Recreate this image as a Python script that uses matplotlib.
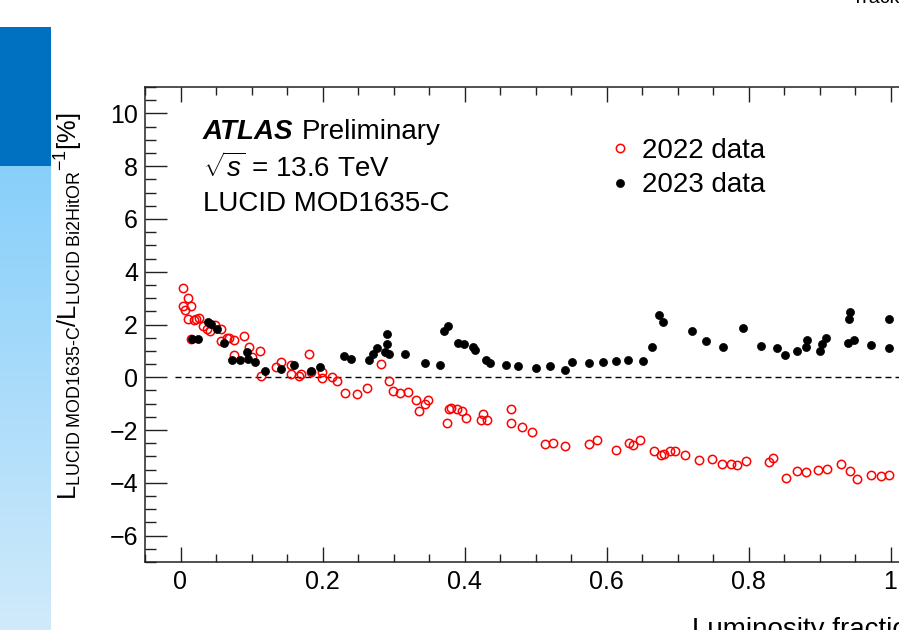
import numpy as np
import matplotlib
matplotlib.use("Agg")
import matplotlib.pyplot as plt
from matplotlib.patches import Rectangle

plt.rcParams['font.family'] = ['Liberation Sans', 'DejaVu Sans']
plt.rcParams['mathtext.fontset'] = 'custom'
plt.rcParams['mathtext.rm'] = 'Liberation Sans'
plt.rcParams['mathtext.it'] = 'Liberation Sans:italic'
plt.rcParams['mathtext.bf'] = 'Liberation Sans:bold'

# 2022 data (open red circles)
x2022 = [0.004, 0.011, 0.004, 0.006, 0.015, 0.011, 0.019, 0.022, 0.026, 0.032,
         0.037, 0.041, 0.048, 0.057, 0.015, 0.057, 0.066, 0.069, 0.075, 0.090,
         0.076, 0.096, 0.100, 0.112, 0.113, 0.135, 0.141, 0.155, 0.155, 0.167,
         0.170, 0.181, 0.184, 0.199, 0.199, 0.213, 0.220, 0.232, 0.249, 0.263,
         0.282, 0.293, 0.299, 0.309, 0.321, 0.332, 0.336, 0.344, 0.348, 0.375,
         0.378, 0.381, 0.389, 0.397, 0.402, 0.423, 0.426, 0.431, 0.466, 0.466,
         0.481, 0.495, 0.513, 0.524, 0.541, 0.576, 0.586, 0.614, 0.632, 0.637,
         0.647, 0.667, 0.677, 0.681, 0.690, 0.696, 0.711, 0.730, 0.749, 0.762,
         0.776, 0.784, 0.796, 0.829, 0.835, 0.853, 0.869, 0.881, 0.898, 0.910,
         0.930, 0.943, 0.953, 0.973, 0.987, 0.998]
y2022 = [3.40, 3.02, 2.69, 2.56, 2.69, 2.19, 2.16, 2.21, 2.26, 1.93,
         1.84, 1.74, 1.97, 1.84, 1.44, 1.38, 1.47, 1.50, 1.43, 1.55,
         0.83, 1.15, 0.77, 1.00, 0.05, 0.39, 0.58, 0.48, 0.14, 0.04,
         0.14, 0.87, 0.20, 0.20, -0.01, 0.01, -0.15, -0.58, -0.62, -0.39,
         0.49, -0.14, -0.52, -0.59, -0.56, -0.87, -1.29, -1.03, -0.85, -1.73,
         -1.22, -1.17, -1.21, -1.28, -1.53, -1.60, -1.40, -1.63, -1.22, -1.75,
         -1.88, -2.07, -2.54, -2.49, -2.61, -2.54, -2.39, -2.74, -2.49, -2.58,
         -2.39, -2.79, -2.95, -2.89, -2.80, -2.79, -2.95, -3.14, -3.08, -3.27,
         -3.27, -3.33, -3.17, -3.21, -3.06, -3.80, -3.55, -3.59, -3.52, -3.48,
         -3.30, -3.56, -3.84, -3.72, -3.75, -3.72]

# 2023 data (filled black circles)
x2023 = [0.016, 0.025, 0.039, 0.043, 0.051, 0.061, 0.073, 0.084, 0.094, 0.095,
         0.105, 0.119, 0.141, 0.160, 0.184, 0.197, 0.230, 0.240, 0.265, 0.271,
         0.277, 0.291, 0.291, 0.288, 0.294, 0.316, 0.344, 0.366, 0.371, 0.377,
         0.391, 0.399, 0.412, 0.415, 0.430, 0.436, 0.458, 0.475, 0.500, 0.521,
         0.541, 0.551, 0.575, 0.595, 0.613, 0.630, 0.651, 0.664, 0.674, 0.679,
         0.720, 0.740, 0.764, 0.792, 0.817, 0.840, 0.851, 0.869, 0.881, 0.882,
         0.900, 0.904, 0.909, 0.940, 0.942, 0.943, 0.949, 0.972, 0.998, 0.998]
y2023 = [1.44, 1.44, 2.10, 2.01, 1.84, 1.30, 0.67, 0.64, 0.96, 0.71,
         0.58, 0.24, 0.30, 0.48, 0.24, 0.39, 0.80, 0.71, 0.64, 0.90,
         1.12, 1.63, 1.25, 0.96, 0.87, 0.90, 0.54, 0.45, 1.75, 1.93,
         1.31, 1.28, 1.15, 1.05, 0.64, 0.56, 0.48, 0.43, 0.35, 0.41,
         0.29, 0.58, 0.54, 0.58, 0.61, 0.64, 0.61, 1.15, 2.37, 2.10,
         1.74, 1.38, 1.15, 1.87, 1.17, 1.11, 0.83, 1.00, 1.15, 1.43,
         1.00, 1.25, 1.47, 1.31, 2.22, 2.47, 1.40, 1.21, 2.22, 1.11]

xticks = [0, 0.2, 0.4, 0.6, 0.8, 1]
xticklabels = ['0', '0.2', '0.4', '0.6', '0.8', '1']
yticks = [-6, -4, -2, 0, 2, 4, 6, 8, 10]
yticklabels = ['\u22126', '\u22124', '\u22122', '0', '2', '4', '6', '8', '10']

W, H = 899, 630
fig = plt.figure(figsize=(W / 100, H / 100), dpi=100)

# left decorative blue bar
fig.patches.append(Rectangle((0, 1 - 166 / H), 51 / W, (166 - 27) / H,
                             transform=fig.transFigure, facecolor='#0070c0',
                             edgecolor='none', zorder=0))
gax = fig.add_axes([0, 0, 51 / W, (H - 166) / H])
grad = np.linspace(0, 1, 256).reshape(-1, 1)
c_top = np.array([135, 207, 250]) / 255
c_bot = np.array([208, 234, 251]) / 255
img = c_top[None, None, :] * (1 - grad[:, :, None]) + c_bot[None, None, :] * grad[:, :, None]
gax.imshow(img, aspect='auto', extent=[0, 1, 0, 1])
gax.axis('off')

left, bottom, top = 145, 562, 87
right = 926
ax = fig.add_axes([left / W, (H - bottom) / H, (right - left) / W, (bottom - top) / H])
ax.set_xlim(-0.05, 1.05)
ax.set_ylim(-7, 11)

ax.hlines(0, -0.008, 1.05, colors='black', linestyles=(0, (4.3, 2.9)), linewidth=1.0, zorder=1)

ax.plot(x2022, y2022, linestyle='none', marker='o', markersize=6.0, markerfacecolor='none',
        markeredgecolor='#ff0000', markeredgewidth=1.1, label='2022 data', zorder=3)
ax.plot(x2023, y2023, linestyle='none', marker='o', markersize=5.8, markerfacecolor='black',
        markeredgecolor='black', markeredgewidth=0.5, label='2023 data', zorder=4)

ax.set_xticks(xticks)
ax.set_xticklabels(xticklabels)
ax.set_yticks(yticks)
ax.set_yticklabels(yticklabels)
ax.set_xticks(np.arange(-0.05, 1.051, 0.05), minor=True)
ax.set_yticks(np.arange(-7, 11.01, 0.5), minor=True)
ax.tick_params(axis='both', which='both', direction='in', top=True, right=True,
               labelsize=18, width=1.0, color='#222222')
ax.tick_params(axis='x', which='major', length=10.8, pad=6)
ax.tick_params(axis='x', which='minor', length=5.6)
ax.tick_params(axis='y', which='major', length=15.8, pad=5)
ax.tick_params(axis='y', which='minor', length=7.9)
for s in ax.spines.values():
    s.set_linewidth(1.1)
    s.set_color('#222222')

def ay(py):
    return (bottom - py) / (bottom - top)

def axx(px):
    return (px - left) / (right - left)

ax.set_ylabel(r'$\mathregular{L_{LUCID\ MOD1635\text{-}C}/{L_{LUCID\ Bi2HitOR}}^{-1}[\%]}$',
              fontsize=18.4)
ax.yaxis.set_label_coords(axx(85), ay(306))

ax.text(axx(203), ay(132), 'ATLAS', fontsize=20, fontweight='bold', fontstyle='italic',
        va='center', ha='left', transform=ax.transAxes)
ax.text(axx(302), ay(132), 'Preliminary', fontsize=20, va='center', ha='left', transform=ax.transAxes)
ax.text(axx(203), ay(168), r'$\sqrt{s}$ = 13.6 TeV', fontsize=20, va='center', ha='left',
        transform=ax.transAxes)
ax.text(axx(203), ay(204), 'LUCID MOD1635-C', fontsize=20, va='center', ha='left',
        transform=ax.transAxes)

ax.legend(loc='upper left', bbox_to_anchor=(axx(606), ay(138)), frameon=False, fontsize=20,
          handlelength=1.0, handletextpad=0.3, labelspacing=0.3, borderpad=0, borderaxespad=0,
          numpoints=1)

fig.text(692 / W, 1 - 617 / H, 'Luminosity fraction', fontsize=20, ha='left', va='top')
fig.text(852 / W, 1 - 3 / H, 'Track', fontsize=14, ha='left', va='baseline')

fig.savefig('out.png', dpi=100)
